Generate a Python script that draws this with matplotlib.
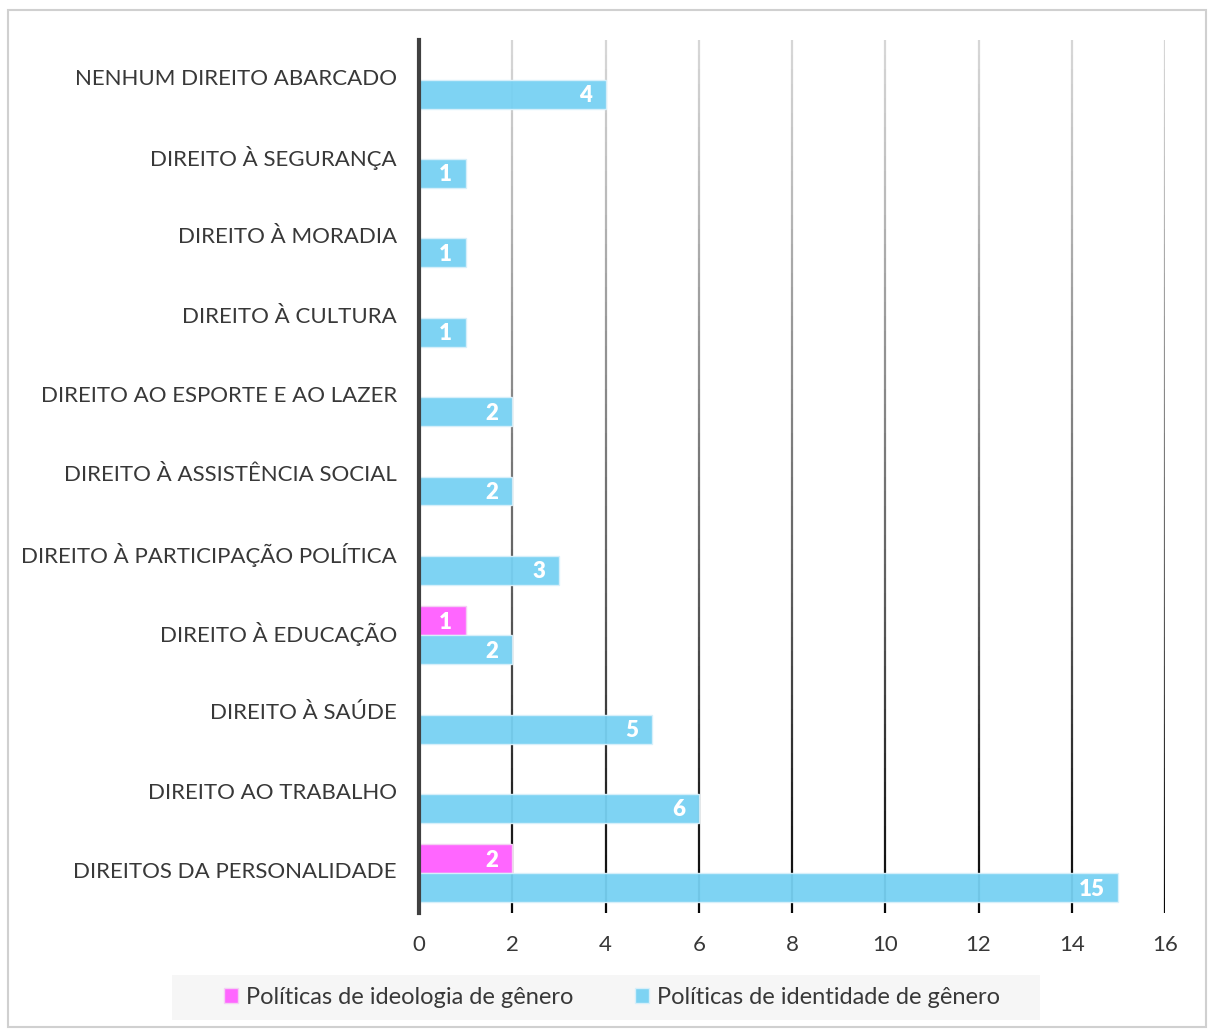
import numpy as np
import matplotlib.pyplot as plt
from matplotlib.collections import LineCollection
from matplotlib.patches import Rectangle

plt.rcParams['font.family'] = ['Lato', 'DejaVu Sans']

# Data (bottom to top)
categories = ['DIREITOS DA PERSONALIDADE', 'DIREITO AO TRABALHO', 'DIREITO À SAÚDE',
              'DIREITO À EDUCAÇÃO', 'DIREITO À PARTICIPAÇÃO POLÍTICA',
              'DIREITO À ASSISTÊNCIA SOCIAL', 'DIREITO AO ESPORTE E AO LAZER',
              'DIREITO À CULTURA', 'DIREITO À MORADIA', 'DIREITO À SEGURANÇA',
              'NENHUM DIREITO ABARCADO']
ideologia = [2, np.nan, np.nan, 1, np.nan, np.nan, np.nan, np.nan, np.nan, np.nan, np.nan]
identidade = [15, 6, 5, 2, 3, 2, 2, 1, 1, 1, 4]
x_ticks = [0, 2, 4, 6, 8, 10, 12, 14, 16]

pink = '#FF66FF'
blue = '#77D1F3'
W, H = 1208, 1029

fig = plt.figure(figsize=(12.08, 10.29), dpi=100)
ax = fig.add_axes([0.3469, 0.1127, 0.9644 - 0.3469, 0.9611 - 0.1127])

y = np.arange(len(categories))
h = 0.365
ax.set_xlim(0, 16)
ax.set_ylim(-0.5, len(categories) - 0.5)

# gradient gridlines (light at top, dark at bottom)
cmap = plt.get_cmap('Greys')
n = 60
ys = np.linspace(-0.5, len(categories) - 0.5, n + 1)
for xv in x_ticks[1:]:
    segs = [[(xv, ys[i]), (xv, ys[i + 1])] for i in range(n)]
    cols = [cmap(0.97 - 0.72 * (i / n)) for i in range(n)]
    ax.add_collection(LineCollection(segs, colors=cols, linewidths=1.6, zorder=1))

b1 = ax.barh(y + h / 2, ideologia, height=h, color=pink, edgecolor='#f3d0f3', linewidth=1, zorder=2,
             label='Políticas de ideologia de gênero')
b2 = ax.barh(y - h / 2, identidade, height=h, color=blue, alpha=0.95, edgecolor='#d8f0fb', linewidth=1,
             zorder=3, label='Políticas de identidade de gênero')

for bars, vals in [(b1, ideologia), (b2, identidade)]:
    for rect, v in zip(bars, vals):
        if np.isnan(v):
            continue
        ax.annotate(f'{int(v)}', (rect.get_width(), rect.get_y() + rect.get_height() / 2),
                    xytext=(-10, -1), textcoords='offset points', ha='right', va='center',
                    color='white', fontsize=16, fontweight='heavy', zorder=5)

ax.set_yticks(y + 0.04)
ax.set_yticklabels(categories, fontsize=16, color='#383838')
ax.set_xticks(x_ticks)
ax.set_xticklabels([str(t) for t in x_ticks], fontsize=16, color='#383838')
ax.tick_params(axis='both', length=0)
ax.tick_params(axis='x', pad=16)
ax.tick_params(axis='y', pad=16)

for s in ['top', 'right', 'bottom']:
    ax.spines[s].set_visible(False)
ax.spines['left'].set_color('#404040')
ax.spines['left'].set_linewidth(3)
ax.spines['left'].set_zorder(6)

# legend background box
fig.patches.append(Rectangle((172 / W, 1 - 1020 / H), 868 / W, 45 / H, transform=fig.transFigure,
                             facecolor='#f6f6f6', edgecolor='none', zorder=0))
leg = fig.legend(handles=[b1, b2], loc='center', bbox_to_anchor=(612 / W, 1 - 997 / H), ncol=2,
                 frameon=False, fontsize=17, handlelength=0.6, handleheight=0.6, handletextpad=0.35,
                 columnspacing=2.6, borderpad=0.2)
for t in leg.get_texts():
    t.set_color('#383838')

# outer chart border
fig.patches.append(Rectangle((8 / W, 2 / H), 1198 / W, 1017 / H,
                             transform=fig.transFigure, fill=False, edgecolor='#d0d0d0', linewidth=1.5))

fig.savefig('out.png', dpi=100)
